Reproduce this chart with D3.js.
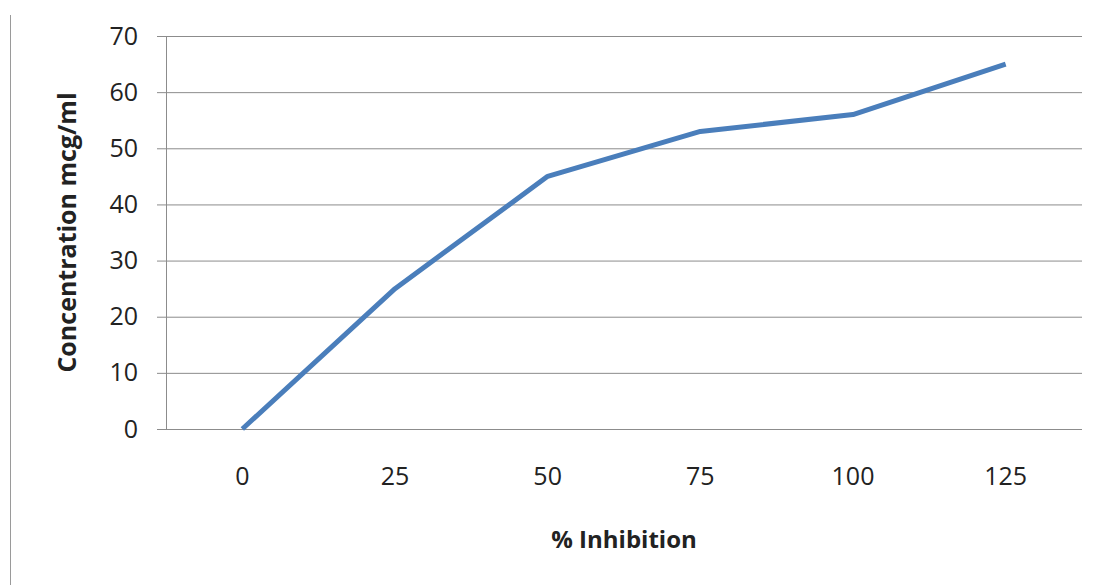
<!DOCTYPE html>
<html>
<head>
<meta charset="utf-8">
<script src="https://cdn.jsdelivr.net/npm/d3@7"></script>
<style>
  body { margin: 0; background: #fff; }
  svg { display: block; }
</style>
</head>
<body>
<div id="chart"></div>
<script>
// datos
const categories = ["0", "25", "50", "75", "100", "125"];
const concentration = [0, 25, 45, 53, 56, 65];
const yTicks = [0, 10, 20, 30, 40, 50, 60, 70];

const WIDTH = 1104;
const HEIGHT = 585;
const margin = { top: 36, right: 22, bottom: 156, left: 166 };
const innerW = WIDTH - margin.left - margin.right;
const innerH = HEIGHT - margin.top - margin.bottom;
const FONT = "'Open Sans', sans-serif";

const svg = d3.select("#chart").append("svg")
    .attr("width", WIDTH)
    .attr("height", HEIGHT);

// linea del borde izquierdo
svg.append("line")
    .attr("x1", 10.5).attr("x2", 10.5)
    .attr("y1", 15).attr("y2", HEIGHT)
    .attr("stroke", "#9a9a9a")
    .attr("stroke-width", 1);

const g = svg.append("g")
    .attr("transform", `translate(${margin.left}, ${margin.top})`);

const x = d3.scaleBand()
    .domain(categories)
    .range([0, innerW]);

const y = d3.scaleLinear()
    .domain([0, 70])
    .range([innerH, 0]);

// grilla + eje y
g.append("g")
    .attr("class", "y-axis")
    .call(d3.axisLeft(y).tickValues(yTicks).tickSizeInner(-innerW).tickSizeOuter(0).tickPadding(28))
    .call(sel => sel.select(".domain").remove())
    .call(sel => sel.selectAll(".tick line")
        .attr("x1", -9)
        .attr("stroke", "#8c8c8c"))
    .call(sel => sel.selectAll(".tick text")
        .attr("font-family", FONT)
        .attr("font-size", "25px")
        .attr("fill", "#222"));

// linea vertical del eje y
g.append("line")
    .attr("x1", 0.5).attr("x2", 0.5)
    .attr("y1", 0).attr("y2", innerH)
    .attr("stroke", "#8c8c8c");

// eje x
g.append("g")
    .attr("class", "x-axis")
    .attr("transform", `translate(0, ${innerH})`)
    .call(d3.axisBottom(x).tickSize(0).tickPadding(38))
    .call(sel => sel.select(".domain").remove())
    .call(sel => sel.selectAll(".tick text")
        .attr("font-family", FONT)
        .attr("font-size", "25px")
        .attr("fill", "#222"));

g.append("line")
    .attr("x1", -9).attr("x2", innerW)
    .attr("y1", innerH + 0.5).attr("y2", innerH + 0.5)
    .attr("stroke", "#8c8c8c");

// linea de datos
const line = d3.line()
    .x((d, i) => x(categories[i]) + x.bandwidth() / 2)
    .y(d => y(d));

g.append("path")
    .datum(concentration)
    .attr("fill", "none")
    .attr("stroke", "#4a7ebb")
    .attr("stroke-width", 5)
    .attr("stroke-linejoin", "round")
    .attr("d", line);

// titulos de ejes
svg.append("text")
    .attr("x", margin.left + innerW / 2)
    .attr("y", 548)
    .attr("text-anchor", "middle")
    .attr("font-family", FONT)
    .attr("font-size", "24px")
    .attr("font-weight", "bold")
    .attr("fill", "#222")
    .text("% Inhibition");

svg.append("text")
    .attr("transform", `translate(76, ${margin.top + innerH / 2}) rotate(-90)`)
    .attr("text-anchor", "middle")
    .attr("font-family", FONT)
    .attr("font-size", "25px")
    .attr("font-weight", "bold")
    .attr("fill", "#222")
    .text("Concentration mcg/ml");
</script>
</body>
</html>
